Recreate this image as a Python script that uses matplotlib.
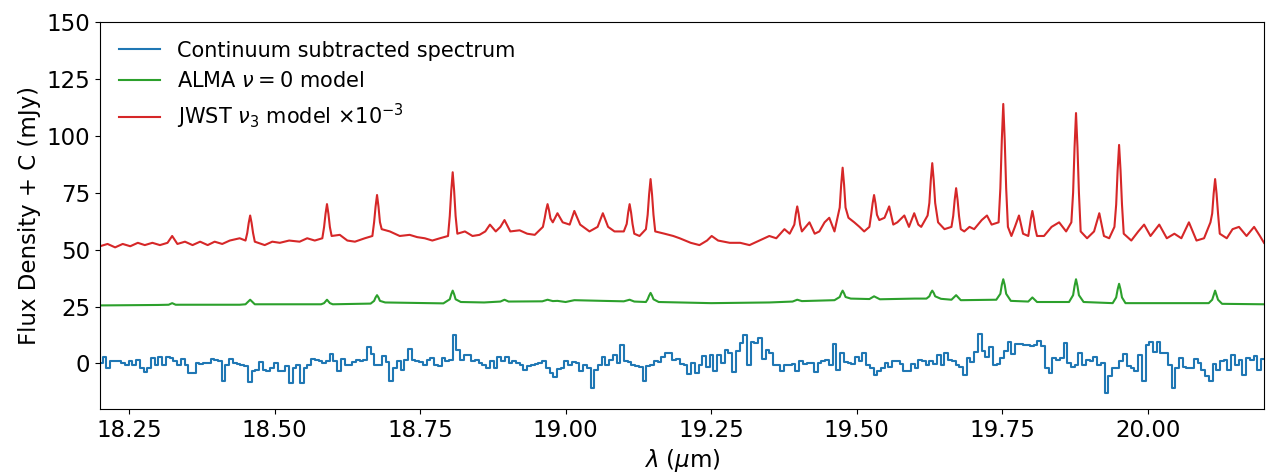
import numpy as np
import matplotlib.pyplot as plt

# continuum subtracted spectrum, one value per spectral bin (mJy)
spec_start = 18.198
spec_step = 0.0064
spec_flux = [
    0.2, 2.7, -2.0, 0.9, 1.3, 1.3, 0.2, -0.5, 0.9, -0.5,
    1.7, -2.0, -3.7, -2.0, 2.4, -0.5, 2.7, -0.5, 2.7, 2.4,
    1.3, -0.5, 2.1, -0.5, -4.2, -4.2, 0.2, -0.2, 0.2, 0.2,
    2.1, 1.7, 1.3, -7.5, -0.5, 2.1, 0.2, -0.2, -0.5, -1.2,
    -8.1, -3.4, -2.7, 0.7, -2.7, -3.1, -2.0, 0.2, -3.4, -3.4,
    -1.2, -8.6, -2.0, -0.5, -8.6, -2.0, -0.5, 2.1, 1.7, 0.9,
    0.2, 0.9,
    4.2, 1.3, -3.1, 2.1, -0.5, -0.5, 0.7, 1.7, 1.0, 1.7,
    7.1, 4.2, -0.5, -0.5, 3.1, 0.7, -7.8, -2.0, 1.3, -2.7,
    1.7, 6.5, 1.7, 1.0, 0.7, -0.5, 1.7, 2.4, -0.5, -1.2,
    2.4, 1.0, 1.7, 12.7, 6.1, 1.7, 3.8, 3.8, 1.0, 1.7,
    0.2, -0.5, -2.0, 1.3, -2.0, 2.7, 1.0, 2.7, 0.2, 1.0,
    0.2, -0.5, -2.7, -1.2, -0.5, -0.2, 0.2, 1.3, -2.0, -4.2,
    -6.1, -2.3, -2.0, 1.3,
    -0.5, 0.7, 0.2, -3.4, -0.5, -2.0, -10.9, -2.7, -0.5, 2.7,
    -0.5, 1.7, 3.6, 0.2, 8.0, 1.0, 0.7, -0.5, -1.2, -1.6,
    -7.5, -1.2, -0.5, 1.3, 0.7, 2.7, 4.4, 4.8, 1.7, 2.1,
    -0.2, -0.8, -4.5, 0.2, -4.2, -0.5, 3.2, -1.6, 3.9, -3.4,
    3.6, 0.2, 6.1, 4.4, -3.7, 5.3, 9.0, 12.7, -0.5, 9.4,
    9.0, 11.1, 2.1, 5.7, 4.8, -0.5, -0.5, -3.1, -0.8, -0.5,
    -0.2,
    -3.1, 1.3, -0.2, 0.2, 0.2, -3.7, 0.2, 1.3, 1.7, -0.5,
    8.6, -2.7, 4.6, 0.7, 0.2, -0.2, 2.7, 1.0, 4.6, -0.5,
    -2.0, -5.2, -3.1, -2.0, 0.2, -1.7, 1.3, 1.0, -0.2, -3.4,
    -3.1, -0.2, -2.0, 1.7, 1.0, -0.5, 1.3, -0.2, 3.6, -0.5,
    4.6, 1.7, 1.3, -0.5, -1.7, -4.9, 2.4, 0.7, 5.1, 13.0,
    5.4, 2.7, 7.1, -0.5, -0.2, 2.4, 5.4, 9.4, 4.2, 8.6,
    8.6,
    8.3, 8.3, 7.5, 8.0, 9.7, 7.5, -2.0, -4.2, 2.4, 1.7,
    2.4, 9.0, 0.2, -1.7, -0.5, 4.6, -0.5, 1.7, 1.3, 2.7,
    -0.5, 0.2, -13.0, -5.6, -2.0, -2.0, 1.0, 4.2, -1.2, -2.0,
    -3.4, 3.9, -7.5, 8.3, 9.4, 5.0, 9.4, 4.6, 4.6, -0.5,
    -10.9, -2.0, 2.4, -1.7, -2.0, -2.0, 2.1, 0.2, -2.7, -5.6,
    -7.8, -0.2, -2.7, 1.3, 1.7, -2.7, 3.9, -0.5, 1.7, -4.9,
    2.4, 1.7, 3.2, -2.7, 2.1, 2.1, -2.7, -6.4,
]

# ALMA v=0 model, offset by +25 mJy: (wavelength um, flux mJy)
alma_points = [
    (18.200, 25.5), (18.300, 25.7), (18.318, 25.8), (18.324, 26.5), (18.330, 25.8),
    (18.440, 25.8), (18.450, 26.0), (18.458, 28.0), (18.466, 26.0), (18.580, 26.0),
    (18.585, 26.5), (18.590, 28.0), (18.595, 26.5), (18.600, 26.0), (18.665, 26.3),
    (18.671, 27.5), (18.6735, 29.0), (18.676, 30.0), (18.6785, 29.0), (18.681, 27.5),
    (18.690, 26.8), (18.790, 26.4), (18.801, 28.2), (18.8035, 30.4), (18.806, 32.0),
    (18.8085, 30.4), (18.811, 28.2), (18.820, 27.0), (18.860, 26.8), (18.888, 27.2),
    (18.895, 28.0), (18.902, 27.2), (18.960, 27.3), (18.969, 28.0), (18.978, 27.4),
    (18.986, 27.5), (19.000, 27.0), (19.015, 27.8), (19.064, 27.5), (19.100, 27.3),
    (19.110, 28.0), (19.118, 27.2), (19.138, 27.0), (19.141, 28.2), (19.1435, 29.8),
    (19.146, 31.0), (19.1485, 29.8), (19.151, 28.2), (19.160, 27.0), (19.250, 26.5),
    (19.350, 26.8), (19.390, 27.2), (19.398, 28.0), (19.406, 27.4), (19.462, 27.8),
    (19.471, 29.2), (19.4735, 30.8), (19.476, 32.0), (19.4785, 30.8), (19.481, 29.2),
    (19.490, 28.5), (19.522, 28.3), (19.530, 29.5), (19.540, 28.2), (19.600, 28.5),
    (19.620, 28.5), (19.625, 29.5), (19.6275, 31.0), (19.630, 32.0), (19.6325, 31.0),
    (19.635, 29.5), (19.645, 28.4), (19.663, 28.0), (19.671, 30.0), (19.679, 27.8),
    (19.740, 28.0), (19.747, 30.6), (19.7495, 34.5), (19.752, 37.0), (19.7545, 34.5),
    (19.757, 30.6), (19.765, 27.5), (19.795, 27.2), (19.802, 29.0), (19.810, 27.0),
    (19.865, 27.0), (19.872, 30.0), (19.8745, 34.0), (19.877, 37.0), (19.8795, 34.0),
    (19.882, 30.0), (19.890, 27.0), (19.940, 26.5), (19.946, 29.0), (19.9485, 32.5),
    (19.951, 35.0), (19.9535, 32.5), (19.956, 29.0), (19.962, 26.5), (20.020, 26.5),
    (20.105, 26.5), (20.111, 28.0), (20.1135, 30.0), (20.116, 32.0), (20.1185, 30.0),
    (20.121, 28.0), (20.128, 26.2), (20.200, 26.0),
]

# JWST v3 model scaled by 1e-3, offset by +50 mJy: (wavelength um, flux mJy)
jwst_points = [
    (18.200, 51.5), (18.213, 52.5), (18.226, 51.0), (18.239, 52.5), (18.252, 51.5),
    (18.265, 53.0), (18.277, 52.0), (18.290, 53.0), (18.303, 52.0), (18.316, 53.0),
    (18.324, 56.0), (18.333, 52.5), (18.346, 53.5), (18.359, 52.0), (18.372, 53.5),
    (18.385, 52.0), (18.397, 53.5), (18.410, 52.5), (18.423, 54.0), (18.440, 55.0),
    (18.450, 54.0), (18.453, 57.3), (18.4555, 61.7), (18.458, 65.0), (18.4605, 61.7),
    (18.463, 57.3), (18.466, 53.5), (18.483, 52.0), (18.496, 53.5), (18.509, 53.0),
    (18.525, 54.0), (18.543, 53.5), (18.556, 55.0), (18.569, 54.0), (18.582, 55.0),
    (18.585, 59.9), (18.5875, 65.7), (18.590, 70.0), (18.5925, 65.7), (18.595, 59.9),
    (18.598, 56.0), (18.612, 56.5), (18.625, 54.0), (18.638, 53.5), (18.655, 55.0),
    (18.668, 56.0), (18.671, 62.1), (18.6735, 68.9), (18.676, 74.0), (18.6785, 68.9),
    (18.681, 62.1), (18.684, 59.0), (18.698, 58.0), (18.715, 56.0), (18.732, 56.5),
    (18.745, 55.5), (18.758, 55.0), (18.771, 54.0), (18.784, 55.0), (18.798, 56.0),
    (18.801, 64.8), (18.8035, 75.8), (18.806, 84.0), (18.8085, 75.8), (18.811, 64.8),
    (18.814, 57.0), (18.827, 58.0), (18.840, 56.0), (18.852, 56.5), (18.862, 58.0),
    (18.870, 61.0), (18.880, 58.0), (18.888, 60.0), (18.895, 63.0), (18.905, 58.0),
    (18.921, 58.5), (18.934, 57.0), (18.947, 56.5), (18.961, 60.0), (18.964, 63.7),
    (18.9665, 67.3), (18.969, 70.0), (18.9715, 67.3), (18.974, 63.7), (18.978, 62.0),
    (18.986, 66.0), (18.995, 62.0), (19.007, 61.0), (19.015, 67.0), (19.025, 61.0),
    (19.041, 58.0), (19.055, 60.0), (19.064, 66.0), (19.073, 60.0), (19.084, 58.0),
    (19.100, 58.0), (19.105, 61.3), (19.1075, 66.3), (19.110, 70.0), (19.1125, 66.3),
    (19.115, 61.3), (19.118, 57.0), (19.127, 56.0), (19.138, 59.0), (19.141, 65.3),
    (19.1435, 74.3), (19.146, 81.0), (19.1485, 74.3), (19.151, 65.3), (19.154, 58.0),
    (19.170, 57.0), (19.185, 56.0), (19.196, 55.0), (19.215, 53.0), (19.230, 52.0),
    (19.243, 54.0), (19.251, 56.0), (19.262, 54.0), (19.282, 53.0), (19.300, 53.0),
    (19.316, 52.0), (19.333, 54.0), (19.350, 56.0), (19.362, 55.0), (19.376, 59.0),
    (19.385, 57.0), (19.393, 61.0), (19.3955, 65.6), (19.398, 69.0), (19.4005, 65.6),
    (19.403, 61.0), (19.406, 58.0), (19.419, 62.0), (19.428, 57.0), (19.436, 58.0),
    (19.445, 62.0), (19.453, 64.0), (19.462, 58.0), (19.471, 68.5), (19.4735, 78.5),
    (19.476, 86.0), (19.4785, 78.5), (19.481, 68.5), (19.486, 64.0), (19.496, 62.0),
    (19.505, 60.0), (19.513, 58.0), (19.522, 60.0), (19.525, 65.3), (19.5275, 70.3),
    (19.530, 74.0), (19.5325, 70.3), (19.535, 65.3), (19.539, 63.0), (19.548, 64.0),
    (19.556, 69.0), (19.563, 61.0), (19.570, 62.0), (19.582, 65.0), (19.590, 60.0),
    (19.599, 66.0), (19.606, 61.0), (19.611, 60.0), (19.622, 65.0), (19.625, 70.5),
    (19.6275, 80.5), (19.630, 88.0), (19.6325, 80.5), (19.635, 70.5), (19.640, 62.0),
    (19.651, 59.0), (19.663, 60.0), (19.666, 64.8), (19.6685, 71.8), (19.671, 77.0),
    (19.6735, 71.8), (19.676, 64.8), (19.679, 59.0), (19.685, 58.0), (19.694, 60.0),
    (19.702, 59.0), (19.715, 63.0), (19.724, 65.0), (19.732, 61.0), (19.744, 62.0),
    (19.747, 76.9), (19.7495, 98.1), (19.752, 114.0), (19.7545, 98.1), (19.757, 76.9),
    (19.760, 60.0), (19.766, 56.0), (19.772, 60.0), (19.779, 65.0), (19.786, 57.0),
    (19.795, 56.0), (19.797, 59.3), (19.7995, 63.7), (19.802, 67.0), (19.8045, 63.7),
    (19.807, 59.3), (19.810, 56.0), (19.822, 56.0), (19.835, 60.0), (19.848, 62.0),
    (19.860, 58.0), (19.869, 62.0), (19.872, 75.0), (19.8745, 95.0), (19.877, 110.0),
    (19.8795, 95.0), (19.882, 75.0), (19.885, 58.0), (19.896, 55.0), (19.908, 58.0),
    (19.917, 66.0), (19.925, 56.0), (19.934, 55.0), (19.943, 60.0), (19.946, 69.8),
    (19.9485, 84.8), (19.951, 96.0), (19.9535, 84.8), (19.956, 69.8), (19.959, 57.0),
    (19.972, 54.0), (19.984, 58.0), (19.994, 61.0), (20.005, 56.0), (20.020, 61.0),
    (20.033, 55.0), (20.046, 57.0), (20.058, 55.0), (20.071, 62.0), (20.084, 54.0),
    (20.097, 55.0), (20.108, 62.0), (20.111, 65.9), (20.1135, 74.6), (20.116, 81.0),
    (20.1185, 74.6), (20.121, 65.9), (20.124, 57.0), (20.136, 55.0), (20.146, 59.0),
    (20.157, 60.0), (20.170, 56.0), (20.183, 60.0), (20.193, 56.0), (20.200, 53.0),
]

spec_wl = spec_start + spec_step * np.arange(len(spec_flux))
alma_wl, alma_flux = zip(*alma_points)
jwst_wl, jwst_flux = zip(*jwst_points)

fig, ax = plt.subplots(figsize=(12.66, 4.75), dpi=100)
fig.subplots_adjust(left=100 / 1266, right=1264 / 1266, bottom=66 / 475, top=453 / 475)

ax.step(spec_wl, spec_flux, where='post', color='tab:blue', lw=1.5,
        label='Continuum subtracted spectrum')
ax.plot(alma_wl, alma_flux, color='tab:green', lw=1.5, label=r'ALMA $\nu = 0$ model')
ax.plot(jwst_wl, jwst_flux, color='tab:red', lw=1.5,
        label=r'JWST $\nu_3$ model $\times 10^{-3}$')

ax.set_xlim(18.2, 20.2)
ax.set_ylim(-20, 150)
ax.set_yticks([0, 25, 50, 75, 100, 125, 150])
ax.set_xlabel(r'$\lambda$ ($\mu$m)', fontsize=16.5)
ax.set_ylabel('Flux Density + C (mJy)', fontsize=16.5)
ax.tick_params(labelsize=16.5)
ax.legend(loc='upper left', frameon=False, fontsize=15)

fig.savefig('out.png', dpi=100)
